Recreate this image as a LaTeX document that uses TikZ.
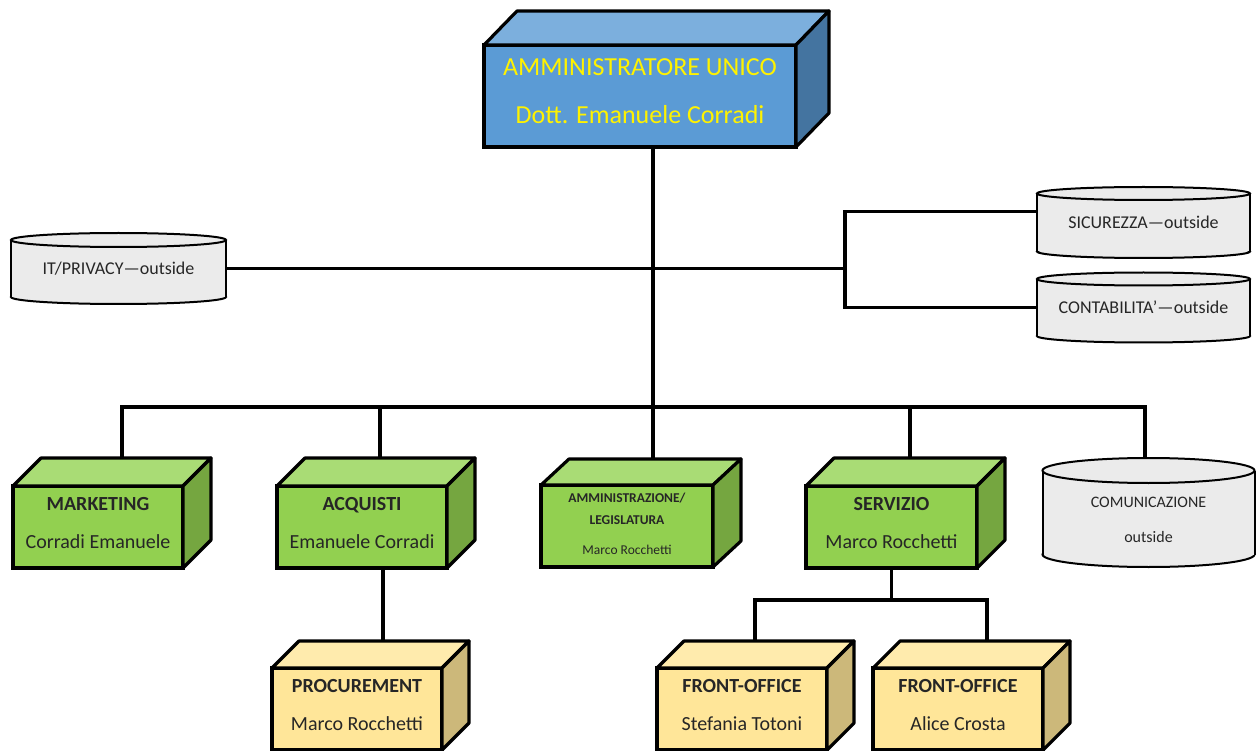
\documentclass[tikz,border=0pt]{standalone}
\usepackage{fontspec}
\setmainfont{Carlito}
\usetikzlibrary{calc}

\definecolor{bluefront}{RGB}{91,155,213}
\definecolor{bluetop}{RGB}{124,175,221}
\definecolor{blueside}{RGB}{68,116,160}
\definecolor{greenfront}{RGB}{146,208,80}
\definecolor{greentop}{RGB}{169,220,117}
\definecolor{greenside}{RGB}{117,166,64}
\definecolor{yellowfront}{RGB}{255,230,153}
\definecolor{yellowtop}{RGB}{255,235,173}
\definecolor{yellowside}{RGB}{204,184,122}
\definecolor{drumgray}{RGB}{235,235,235}
\definecolor{inkdark}{RGB}{38,38,38}

\tikzset{
	front/.style = {draw, line width = 3.2pt, inner sep = 0pt, outer sep = 0pt, align = center, text = inkdark},
	face/.style = {draw, line width = 3.2pt, line join = round},
	drumline/.style = {draw, line width = 2pt},
	link/.style = {line width = 3.3pt}
}

% lines of text in a box, lifted a little (box keeps its size)
\newcommand{\stack}[2]{\raisebox{#1}[\height][\depth]{\begin{tabular}{@{}c@{}}#2\end{tabular}}}

% top and side faces of a box: name, depth x, depth y, top colour, side colour
\newcommand{\boxsides}[5]{
	\draw [face, fill = #4] (#1.north west) -- ++ (#2, #3) -- ($(#1.north east) + (#2, #3)$) -- (#1.north east) -- cycle;
	\draw [face, fill = #5] (#1.north east) -- ++ (#2, #3) -- ($(#1.south east) + (#2, #3)$) -- (#1.south east) -- cycle;
	\coordinate (#1-top) at ($(#1.north) + (#2, #3)$);
}

% drum: name, centre x, half width, top rim y, bottom rim y, rim radius, text
\newcommand{\drum}[7]{
	\draw [drumline, fill = drumgray] (#2, #5) ellipse [x radius = #3pt, y radius = #6pt];
	\fill [drumgray] ({#2 - #3}, #4) rectangle ({#2 + #3}, #5);
	\draw [drumline] ({#2 - #3}, #4) -- ({#2 - #3}, #5) ({#2 + #3}, #4) -- ({#2 + #3}, #5);
	\draw [drumline, fill = drumgray] (#2, #4) ellipse [x radius = #3pt, y radius = #6pt];
	\node [inner sep = 0pt, outer sep = 0pt, align = center, text = inkdark, font = \fontsize{18}{22}\selectfont,
		minimum width = {2 * #3 * 1pt}, minimum height = {(#5 - #4 + 2 * #6) * 1pt}]
		(#1) at (#2, {(#4 + #5) / 2}) {#7};
}

\begin{document}
\begin{tikzpicture}[x = 1pt, y = -1pt]

	\useasboundingbox (0, 0) rectangle (1256, 751);

	% Top of the chart
	
	\node [front, fill = bluefront, text = yellow, minimum width = 312pt, minimum height = 102pt,
		font = \fontsize{26}{31}\selectfont] (admin) at (640, 96)
		{\stack{2.5pt}{AMMINISTRATORE UNICO\\[17pt]Dott. Emanuele Corradi}};
	\boxsides{admin}{33}{-34}{bluetop}{blueside}
	
	% Outside services
	
	\drum{itp}{118.5}{107.5}{240}{297}{7}{IT/PRIVACY—outside}
	\drum{sic}{1143.5}{106.5}{193.5}{251.5}{6.5}{SICUREZZA—outside}
	\drum{cont}{1143.5}{106.5}{279}{336}{6.5}{CONTABILITA’—outside}
	
	\coordinate (brk) at (845, 268.5);
	\draw [link] (itp.east) -- (itp.east -| brk);
	\draw [link] ([yshift = 11pt]sic.west) -| (brk) |- (cont.west);
	
	% Bus to the offices
	
	\coordinate (tapM) at (122, 407);
	\coordinate (tapA) at (380, 407);
	\coordinate (tapC) at (653, 407);
	\coordinate (tapS) at (910, 407);
	\coordinate (tapK) at (1145, 407);
	
	\draw [link] ([xshift = 13pt]admin.south) -- (tapC);
	\draw [link, line cap = rect] (tapM) -- (tapK);
	
	% Offices
	
	\node [front, fill = greenfront, minimum width = 170pt, minimum height = 82pt,
		font = \fontsize{20}{24}\selectfont] (mkt) at (98, 527)
		{\stack{2.5pt}{\textbf{MARKETING}\\[14pt]Corradi Emanuele}};
	\boxsides{mkt}{28}{-28}{greentop}{greenside}
	
	\node [front, fill = greenfront, minimum width = 170pt, minimum height = 82pt,
		font = \fontsize{20}{24}\selectfont] (acq) at (362, 527)
		{\stack{2.5pt}{\textbf{ACQUISTI}\\[14pt]Emanuele Corradi}};
	\boxsides{acq}{28}{-28}{greentop}{greenside}
	
	\node [front, fill = greenfront, minimum width = 172pt, minimum height = 82pt,
		font = \fontsize{13.5}{22}\selectfont] (amm) at (627, 526)
		{\stack{1.5pt}{\textbf{AMMINISTRAZIONE/}\\\textbf{LEGISLATURA}\\[8pt]Marco Rocchetti}};
	\boxsides{amm}{28}{-26}{greentop}{greenside}
	
	\node [front, fill = greenfront, minimum width = 171pt, minimum height = 82pt,
		font = \fontsize{20}{24}\selectfont] (srv) at (891.5, 527)
		{\stack{2.5pt}{\textbf{SERVIZIO}\\[14pt]Marco Rocchetti}};
	\boxsides{srv}{28}{-28}{greentop}{greenside}
	
	\drum{com}{1148.5}{106}{470.5}{554.5}{12.5}{\fontsize{16}{19}\selectfont\stack{-8.5pt}{COMUNICAZIONE\\[16pt]outside}}
	
	\draw [link] (tapM) -- (tapM |- mkt-top);
	\draw [link] (tapA) -- (tapA |- acq-top);
	\draw [link] (tapC) -- (tapC |- amm-top);
	\draw [link] (tapS) -- (tapS |- srv-top);
	\draw [link] (tapK) -- (tapK |- com.north);
	
	% Second level
	
	\node [front, fill = yellowfront, minimum width = 170pt, minimum height = 82pt,
		font = \fontsize{20}{24}\selectfont] (proc) at (357, 709)
		{\stack{2pt}{\textbf{PROCUREMENT}\\[14pt]Marco Rocchetti}};
	\boxsides{proc}{27}{-27}{yellowtop}{yellowside}
	
	\node [front, fill = yellowfront, minimum width = 170pt, minimum height = 82pt,
		font = \fontsize{20}{24}\selectfont] (fo1) at (742, 709)
		{\stack{2pt}{\textbf{FRONT-OFFICE}\\[14pt]Stefania Totoni}};
	\boxsides{fo1}{27}{-27}{yellowtop}{yellowside}
	
	\node [front, fill = yellowfront, minimum width = 170pt, minimum height = 82pt,
		font = \fontsize{20}{24}\selectfont] (fo2) at (958, 709)
		{\stack{2pt}{\textbf{FRONT-OFFICE}\\[14pt]Alice Crosta}};
	\boxsides{fo2}{27}{-27}{yellowtop}{yellowside}
	
	\coordinate (tapF1) at (755, 600);
	\coordinate (tapF2) at (987, 600);
	
	\draw [link] ([xshift = 21pt]acq.south) -- ([xshift = 21pt]acq.south |- proc-top);
	\draw [link] (srv.south) -- (srv.south |- tapF1);
	\draw [link, line join = miter] (tapF1 |- fo1-top) -- (tapF1) -- (tapF2) -- (tapF2 |- fo2-top);

\end{tikzpicture}
\end{document}
